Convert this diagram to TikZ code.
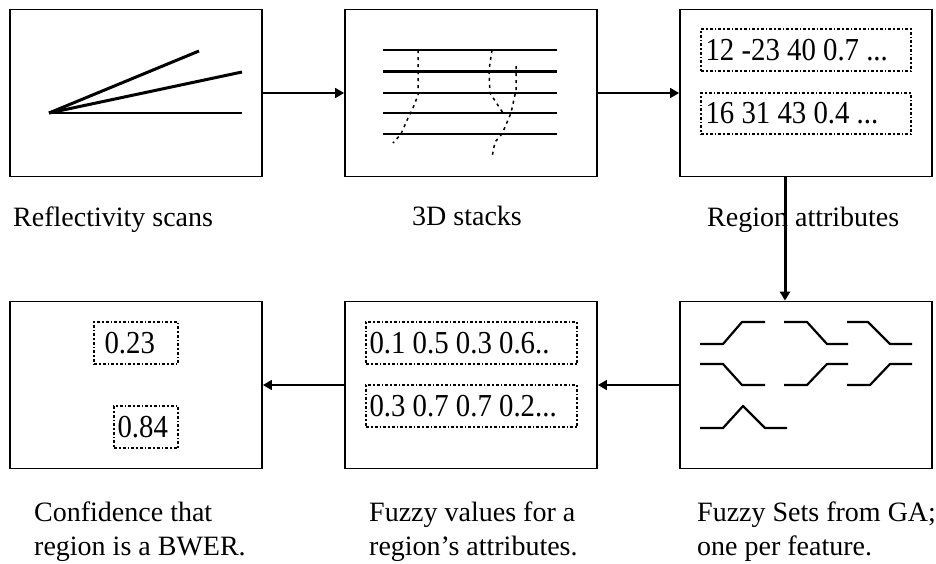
\documentclass[tikz,border=0pt]{standalone}
\usepackage{fontspec}
\setmainfont{Liberation Serif}
\newfontfamily\numfont[FakeStretch=0.9]{Liberation Serif}
\usetikzlibrary{arrows.meta}

\tikzset{
  stage/.style={draw, line width=1.8pt, minimum width=252pt, minimum height=167pt, inner sep=0pt},
  valbox/.style={draw, line width=1.4pt, dash pattern=on 3pt off 2pt on 1.5pt off 2pt, minimum height=42pt, inner sep=0pt},
  num/.style={font=\numfont\fontsize{32}{36}\selectfont, inner sep=0pt, anchor=west},
  caption/.style={font=\fontsize{28}{34}\selectfont, inner sep=0pt, align=left},
  link/.style={line width=1.6pt, -{Triangle[length=9pt,width=10pt]}},
  thin/.style={line width=1.5pt},
  thick/.style={line width=3pt},
  track/.style={line width=1.5pt, dash pattern=on 3pt off 4pt},
  fz/.style={line width=2.2pt, line join=round}
}

\begin{document}
\begin{tikzpicture}[x=1pt, y=-1pt]
\useasboundingbox (0,0) rectangle (936,563);

% processing stages
\node[stage] (scan)  at (136,93)  {};
\node[stage] (stack) at (471,93)  {};
\node[stage] (attr)  at (806,93)  {};
\node[stage] (sets)  at (806,385) {};
\node[stage] (vals)  at (471,385) {};
\node[stage] (conf)  at (136,385) {};

% flow between stages
\draw[link] (scan.east) -- (stack.west);
\draw[link] (stack.east) -- (attr.west);
\draw[link, line width=3pt] ([xshift=-21pt]attr.south) -- ([xshift=-21pt]sets.north);
\draw[link] (sets.west) -- (vals.east);
\draw[link] (vals.west) -- (conf.east);

% reflectivity scans: three beams from one origin
\draw[thin]  (49,113) -- (242,113);
\draw[thick] (49,113) -- (199,51);
\draw[thick] (49,113) -- (242,72);

% 3D stacks: five layers with tracked regions
\draw[thin]  (383,50)  -- (557,50);
\draw[thick] (383,71)  -- (557,71);
\draw[thin]  (383,93)  -- (557,93);
\draw[thin]  (383,113) -- (557,113);
\draw[thin]  (383,134) -- (557,134);
\draw[track] (418,50) -- (418,95) -- (413,108) -- (408,118) -- (401,134) -- (393,143);
\draw[track] (492,50) -- (489,70) -- (490,93) -- (503,113);
\draw[track] (516,66) -- (516,90) -- (511,113) -- (502,134) -- (495,142) -- (492,157);

% region attributes
\node[valbox, minimum width=210pt] (a1) at (806,50) {};
\node[valbox, minimum width=210pt, minimum height=41pt] (a2) at (806,113.5) {};
\node[num] (a1t) at ([xshift=5pt]a1.west) {12 -23 40 0.7 ...};
\node[num] (a2t) at ([xshift=5pt]a2.west) {16 31 43 0.4 ...};

% fuzzy sets, one per feature
\draw[fz] (700,344) -- (723,344) -- (742,322) -- (765,322);
\draw[fz] (784,322) -- (807,322) -- (827,344) -- (848,344);
\draw[fz] (847,322) -- (868,322) -- (890,344) -- (912,344);
\draw[fz] (700,364) -- (723,364) -- (742,385) -- (765,385);
\draw[fz] (784,385) -- (807,385) -- (827,364) -- (848,364);
\draw[fz] (847,385) -- (870,385) -- (890,364) -- (912,364);
\draw[fz] (700,428) -- (723,428) -- (743,406) -- (765,428) -- (787,428);

% fuzzy values
\node[valbox, minimum width=211pt] (v1) at (471.5,343) {};
\node[valbox, minimum width=211pt] (v2) at (471.5,406) {};
\node[num] (v1t) at ([xshift=4pt]v1.west) {0.1 0.5 0.3 0.6..};
\node[num] (v2t) at ([xshift=4pt]v2.west) {0.3 0.7 0.7 0.2...};

% confidence values
\node[valbox, minimum width=84pt] (c1) at (136,343) {};
\node[valbox, minimum width=64pt] (c2) at (146,427) {};
\node[num] (c1t) at ([xshift=11pt]c1.west) {0.23};
\node[num] (c2t) at ([xshift=4pt]c2.west) {0.84};

% captions
\node[caption, anchor=base west] (l1) at (13,226) {Reflectivity scans};
\node[caption, anchor=base] (l2) at (467,225) {3D stacks};
\node[caption, anchor=base west] (l3) at (707,226) {Region attributes};
\node[caption, anchor=north west] (l4) at (34,502) {Confidence that\\region is a BWER.};
\node[caption, anchor=north west] (l5) at (369,502) {Fuzzy values for a\\region's attributes.};
\node[caption, anchor=north west] (l6) at (697,502) {Fuzzy Sets from GA;\\one per feature.};
\end{tikzpicture}
\end{document}
